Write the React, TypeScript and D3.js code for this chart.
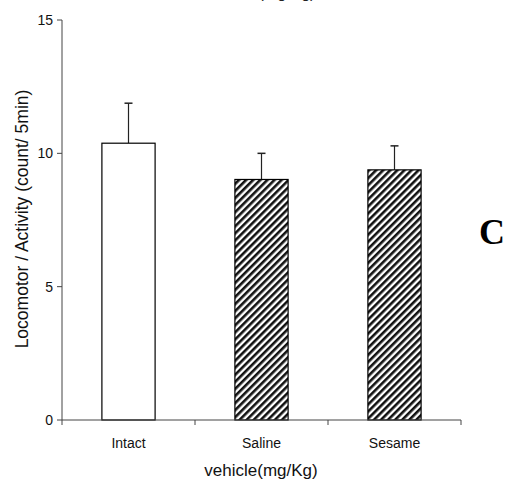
import React from "react";
import * as d3 from "d3";

const categories = ["Intact", "Saline", "Sesame"];
const means = [10.38, 9.02, 9.38];
const errors = [1.5, 0.98, 0.9];
const hatched = [false, true, true];
const yTicks = [0, 5, 10, 15];

const W = 509, H = 484;
const left = 62, right = 461, top = 20, bottom = 420;

export default function App() {
  const x = d3.scaleBand<string>().domain(categories).range([left, right]).paddingInner(0.6).paddingOuter(0.3);
  const xb = d3.scaleBand<string>().domain(categories).range([left, right]);
  const y = d3.scaleLinear().domain([0, 15]).range([bottom, top]);
  const font = "Arial, 'Liberation Sans', sans-serif";
  const bw = x.bandwidth();
  return (
    <svg width={W} height={H} style={{ position: "absolute", left: 0, top: 0, background: "#fff" }}>
      <defs>
        <pattern id="hatch" patternUnits="userSpaceOnUse" width="5" height="5" patternTransform="rotate(45)">
          <rect width="5" height="5" fill="#fff" />
          <rect width="2.6" height="5" fill="#111" />
        </pattern>
      </defs>
      <text x={287} y={-2} textAnchor="middle" fontFamily={font} fontSize={16} fill="#222">(mg/Kg)</text>
      {categories.map((c, i) => {
        const bx = x(c)!;
        const cx = bx + bw / 2;
        const yt = y(means[i]);
        const ye = y(means[i] + errors[i]);
        return (
          <g key={c}>
            <line x1={cx} x2={cx} y1={yt} y2={ye} stroke="#222" strokeWidth={1.2} />
            <line x1={cx - 4} x2={cx + 4} y1={ye} y2={ye} stroke="#222" strokeWidth={1.5} />
            <rect x={bx} y={yt} width={bw} height={bottom - yt} fill={hatched[i] ? "url(#hatch)" : "#fff"} stroke="#000" strokeWidth={1.2} />
          </g>
        );
      })}
      <line x1={left} x2={left} y1={top} y2={bottom} stroke="#444" strokeWidth={1} />
      {yTicks.map((t) => (
        <g key={t}>
          <line x1={left - 5} x2={left} y1={y(t)} y2={y(t)} stroke="#444" />
          <text x={left - 9} y={y(t)} dy="0.35em" textAnchor="end" fontFamily={font} fontSize={14} fill="#111">{t}</text>
        </g>
      ))}
      <line x1={left} x2={right} y1={bottom} y2={bottom} stroke="#444" strokeWidth={1} />
      {[...categories.map((c) => xb(c)!), right].map((v, i) => (
        <line key={i} x1={v} x2={v} y1={bottom} y2={bottom + 5} stroke="#444" />
      ))}
      {categories.map((c) => (
        <text key={c} x={xb(c)! + xb.bandwidth() / 2} y={448} textAnchor="middle" fontFamily={font} fontSize={14} fill="#111">{c}</text>
      ))}
      <text x={261} y={476} textAnchor="middle" fontFamily={font} fontSize={17} fill="#111">vehicle(mg/Kg)</text>
      <text transform={`translate(28, 219) rotate(-90)`} textAnchor="middle" fontFamily={font} fontSize={17.5} fill="#111">Locomotor / Activity (count/ 5min)</text>
      <text x={492} y={244} textAnchor="middle" fontFamily="'Liberation Serif', 'DejaVu Serif', serif" fontWeight="bold" fontSize={36} fill="#000">C</text>
    </svg>
  );
}
